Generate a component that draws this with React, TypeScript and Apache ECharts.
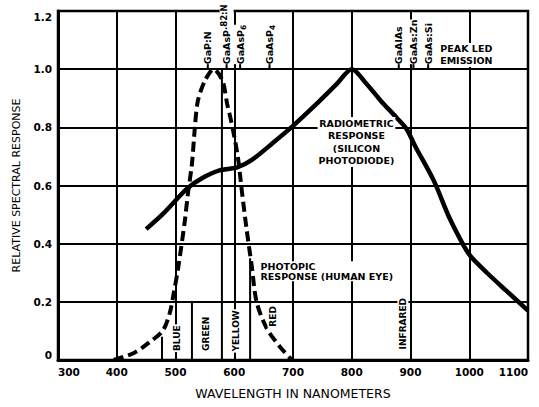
import React, { useEffect, useRef } from "react";
import * as echarts from "echarts";

// Radiometric response (silicon photodiode)
const radioWavelength = [450, 480, 520, 545, 575, 605, 630, 665, 700, 745, 775, 800, 825, 850, 876, 893, 908, 940, 966, 992, 1003, 1030, 1062, 1100];
const radioValue = [0.45, 0.505, 0.59, 0.625, 0.652, 0.662, 0.688, 0.745, 0.805, 0.89, 0.95, 1.0, 0.95, 0.89, 0.834, 0.795, 0.735, 0.615, 0.49, 0.388, 0.355, 0.3, 0.24, 0.17];

// Photopic response (human eye)
const photoWavelength = [395, 430, 455, 478, 490, 497, 504, 516, 521, 528, 533, 538, 550, 565, 580, 588, 596, 606, 613, 621, 630, 638, 655, 678, 698];
const photoValue = [0, 0.025, 0.06, 0.1, 0.16, 0.23, 0.31, 0.48, 0.57, 0.675, 0.8, 0.89, 0.96, 1.0, 0.96, 0.88, 0.81, 0.7, 0.58, 0.45, 0.32, 0.2, 0.11, 0.045, 0];

// Peak LED emission markers
const ledWavelength = [555, 587, 610, 660, 880, 905, 930];
const ledLabels = ["GaP:N", "GaAsP{u|.82:N}", "GaAsP{s|6}", "GaAsP{s|4}", "GaAlAs", "GaAs:Zn", "GaAs:Si"];

// Colour bands
const bandLineWavelength = [477, 528, 579, 627];
const bandLineTop = [0.08, 0.2, 1.0, 0.35];
const bandLabelWavelength = [502, 552, 603, 666, 887];
const bandLabelValue = [0.075, 0.09, 0.1, 0.15, 0.125];
const bandLabels = ["BLUE", "GREEN", "YELLOW", "RED", "INFRARED"];

// Annotations
const noteWavelength = [808, 643, 995];
const noteValue = [0.75, 0.305, 1.049];
const noteTexts = ["RADIOMETRIC\nRESPONSE\n(SILICON\nPHOTODIODE)", "PHOTOPIC\nRESPONSE (HUMAN EYE)", "PEAK LED\nEMISSION"];
const noteAlign = ["center", "left", "center"];
const noteLineHeight = [12.5, 10, 12];

// Axis ticks
const xTickValues = [300, 400, 500, 600, 700, 800, 900, 1000, 1100];
const yTickLabels = ["0", "0.2", "0.4", "0.6", "0.8", "1.0", "1.2"];

const FONT = "'DejaVu Sans', 'Liberation Sans', sans-serif";

export default function App() {
  const ref = useRef<HTMLDivElement>(null);
  useEffect(() => {
    if (!ref.current) return;
    const chart = echarts.init(ref.current, null, { renderer: "svg" });
    const option: any = {
      animation: false,
      backgroundColor: "#fff",
      grid: { left: 58, right: 11, top: 11, bottom: 47, show: true, borderColor: "#000", borderWidth: 2.5 },
      xAxis: {
        type: "value",
        min: xTickValues[0],
        max: xTickValues[xTickValues.length - 1],
        interval: 100,
        name: "WAVELENGTH IN NANOMETERS",
        nameLocation: "middle",
        nameGap: 27,
        nameTextStyle: { color: "#000", fontFamily: FONT, fontSize: 12.5 },
        axisLine: { lineStyle: { color: "#000", width: 3 } },
        axisTick: { show: false },
        axisLabel: {
          color: "#000",
          fontFamily: FONT,
          fontWeight: "bold",
          fontSize: 10.5,
          margin: 6,
          alignMinLabel: "left",
          alignMaxLabel: "right",
          formatter: (v: number) => String(v),
        },
        splitLine: { show: true, lineStyle: { color: "#000", width: 2 } },
      },
      yAxis: {
        type: "value",
        min: 0,
        max: 1.2,
        interval: 0.2,
        name: "RELATIVE SPECTRAL RESPONSE",
        nameLocation: "middle",
        nameGap: 35,
        nameRotate: 90,
        nameTextStyle: { color: "#000", fontFamily: FONT, fontSize: 11 },
        axisLine: { lineStyle: { color: "#000", width: 3 } },
        axisTick: { show: false },
        axisLabel: {
          color: "#000",
          fontFamily: FONT,
          fontWeight: "bold",
          fontSize: 10.5,
          margin: 6,
          formatter: (v: number) => yTickLabels[Math.round(v / 0.2)] ?? "",
          verticalAlignMinLabel: "bottom",
          verticalAlignMaxLabel: "top",
        },
        splitLine: { show: true, lineStyle: { color: "#000", width: 2 } },
      },
      series: [
        {
          type: "custom",
          z: 3,
          data: bandLineWavelength.map((x, i) => [x, 0, bandLineTop[i]]),
          encode: { x: 0, y: [1, 2] },
          renderItem: (params: any, api: any) => {
            const p0 = api.coord([api.value(0), api.value(1)]);
            const p1 = api.coord([api.value(0), api.value(2)]);
            return {
              type: "line",
              shape: { x1: p0[0], y1: p0[1], x2: p1[0], y2: p1[1] },
              style: { stroke: "#000", lineWidth: 2 },
            };
          },
        },
        {
          type: "line",
          z: 4,
          data: radioWavelength.map((x, i) => [x, radioValue[i]]),
          showSymbol: false,
          smooth: 0.3,
          lineStyle: { color: "#000", width: 4.5 },
        },
        {
          type: "line",
          z: 4,
          data: photoWavelength.map((x, i) => [x, photoValue[i]]),
          showSymbol: false,
          smooth: 0.3,
          lineStyle: { color: "#000", width: 4, type: [10, 5] },
        },
        {
          type: "custom",
          z: 6,
          data: ledWavelength.map((x) => [x, 1.0]),
          encode: { x: 0, y: 1 },
          renderItem: (params: any, api: any) => {
            const p = api.coord([api.value(0), api.value(1)]);
            return {
              type: "group",
              children: [
                {
                  type: "line",
                  shape: { x1: p[0], y1: p[1], x2: p[0], y2: p[1] - 6 },
                  style: { stroke: "#000", lineWidth: 2 },
                },
                {
                  type: "text",
                  x: p[0],
                  y: p[1] - 5,
                  rotation: Math.PI / 2,
                  style: {
                    text: ledLabels[params.dataIndex],
                    fill: "#000",
                    font: `bold 9.5px ${FONT}`,
                    align: "left",
                    verticalAlign: "middle",
                    backgroundColor: "#fff",
                    rich: {
                      s: { fontSize: 7.5, fontWeight: "bold", fontFamily: FONT, verticalAlign: "bottom", lineHeight: 14 },
                      u: { fontSize: 8.5, fontWeight: "bold", fontFamily: FONT, verticalAlign: "top", lineHeight: 14 },
                    },
                  },
                },
              ],
            };
          },
        },
        {
          type: "custom",
          z: 6,
          data: bandLabelWavelength.map((x, i) => [x, bandLabelValue[i]]),
          encode: { x: 0, y: 1 },
          renderItem: (params: any, api: any) => {
            const p = api.coord([api.value(0), api.value(1)]);
            return {
              type: "text",
              x: p[0],
              y: p[1],
              rotation: Math.PI / 2,
              style: {
                text: bandLabels[params.dataIndex],
                fill: "#000",
                font: `bold 9px ${FONT}`,
                align: "center",
                verticalAlign: "middle",
                backgroundColor: "#fff",
                padding: [1, 1],
              },
            };
          },
        },
        {
          type: "custom",
          z: 6,
          data: noteWavelength.map((x, i) => [x, noteValue[i]]),
          encode: { x: 0, y: 1 },
          renderItem: (params: any, api: any) => {
            const p = api.coord([api.value(0), api.value(1)]);
            return {
              type: "text",
              x: p[0],
              y: p[1],
              style: {
                text: noteTexts[params.dataIndex],
                fill: "#000",
                font: `bold 9.5px ${FONT}`,
                align: noteAlign[params.dataIndex],
                verticalAlign: "middle",
                lineHeight: noteLineHeight[params.dataIndex],
                backgroundColor: "#fff",
                padding: [0, 1],
              },
            };
          },
        },
      ],
    };
    chart.setOption(option);
    return () => chart.dispose();
  }, []);
  return (
    <div
      ref={ref}
      style={{ position: "fixed", left: 0, top: 0, width: 539, height: 407, background: "#fff" }}
    />
  );
}
